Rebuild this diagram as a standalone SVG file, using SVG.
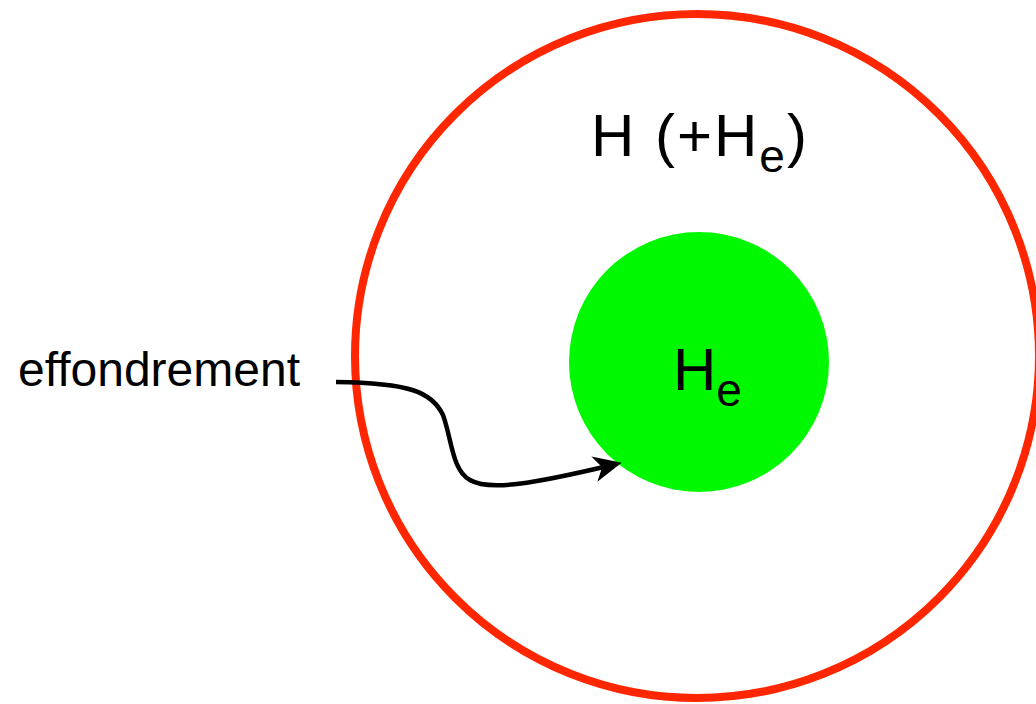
<svg xmlns="http://www.w3.org/2000/svg" width="1036" height="704" viewBox="0 0 1036 704">
<style>
text{font-family:"Liberation Sans",Arial,sans-serif;fill:#000}
.lbl{font-size:60px}
.sub{font-size:46px}
.conn{fill:none;stroke:#000;stroke-width:4.5}
</style>
<defs>
<marker id="ah" viewBox="-16 -15 32 30" refX="0" refY="0" markerWidth="32" markerHeight="30" markerUnits="userSpaceOnUse" orient="auto">
<path d="M14,0 L-14,-13 L-6,0 L-14,13 z" fill="#000"/>
</marker>
</defs>
<rect width="1036" height="704" fill="#fff"/>
<g id="outer">
<circle cx="697" cy="356" r="342" fill="none" stroke="#FF2600" stroke-width="8"/>
<text class="lbl" x="591" y="156" letter-spacing="2">H (+H<tspan class="sub" dy="16">e</tspan><tspan dy="-16">)</tspan></text>
</g>
<g id="core">
<circle cx="699" cy="362" r="130" fill="#00F900"/>
<text class="lbl" x="673" y="390">H<tspan class="sub" dy="16">e</tspan></text>
</g>
<g id="label">
<text x="18" y="386" style="font-size:48px">effondrement</text>
</g>
<g id="connectors">
<path class="conn" d="M336,382 C410,383 432,392 443,415 C452,440 452,470 470,480 C490,492 540,482 608,466" marker-end="url(#ah)"/>
</g>
</svg>
